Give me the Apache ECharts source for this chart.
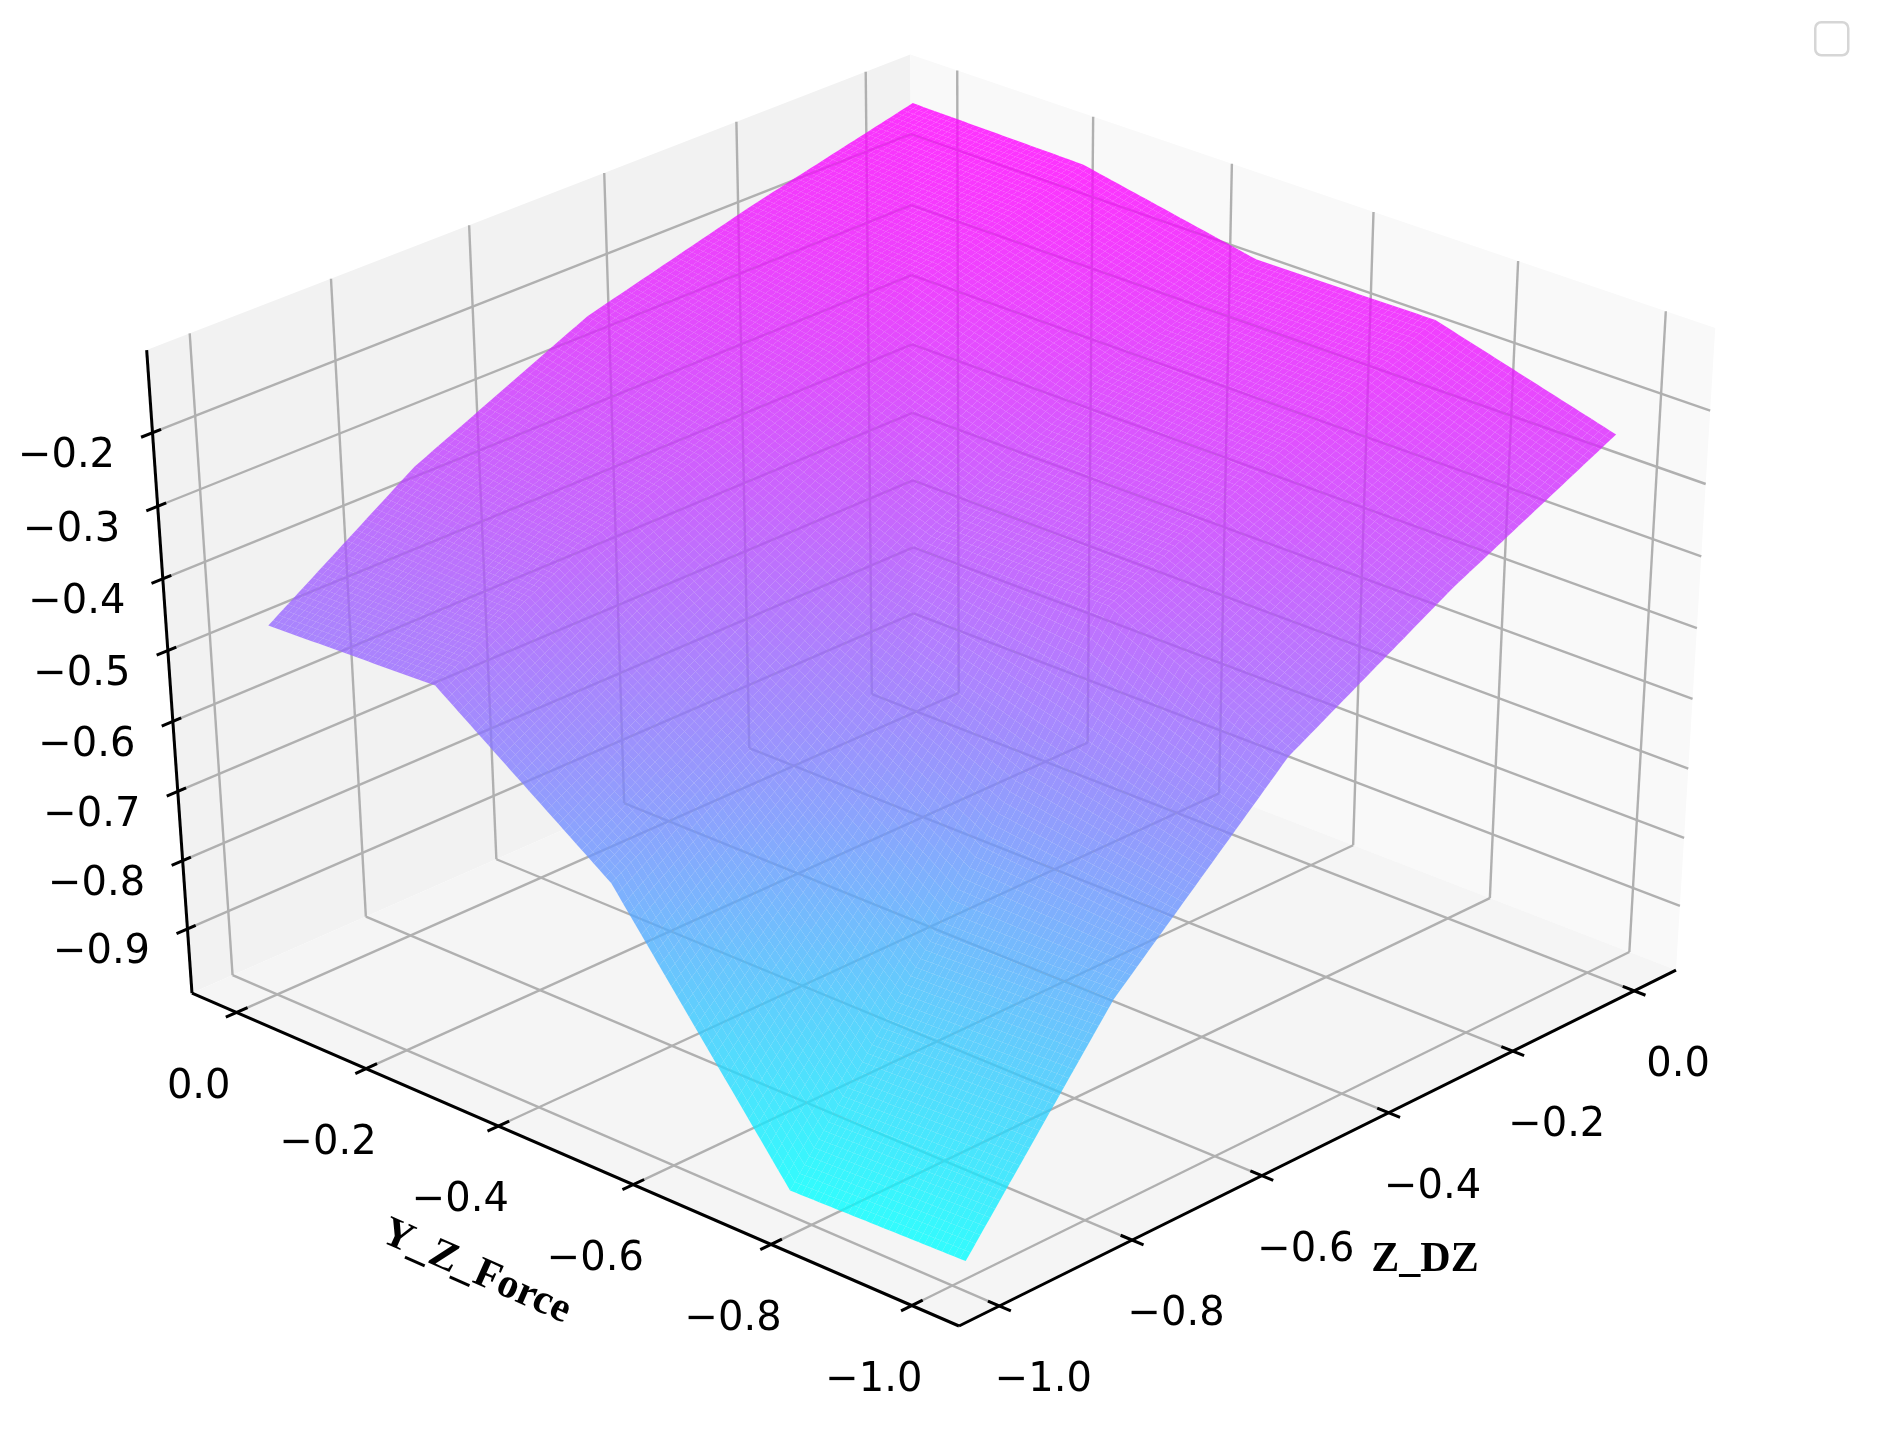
<!DOCTYPE html>
<html>
<head>
<meta charset="utf-8">
<title>surface</title>
<script src="https://cdn.jsdelivr.net/npm/echarts@6/dist/echarts.min.js"></script>
<style>
  html, body { margin: 0; padding: 0; background: #fff; }
  #chart { width: 1890px; height: 1443px; filter: blur(0.7px); }
</style>
</head>
<body>
<div id="chart"></div>
<script>
  // data
  var zDzValues = [0, -0.25, -0.5, -0.76, -0.98];
  var yForceValues = [0, -0.25, -0.5, -0.75, -1];
  // one row per zDzValues entry, one column per yForceValues entry
  var surfaceRow0 = [-0.110, -0.114, -0.162, -0.160, -0.229];
  var surfaceRow1 = [-0.164, -0.177, -0.240, -0.253, -0.340];
  var surfaceRow2 = [-0.226, -0.270, -0.354, -0.358, -0.471];
  var surfaceRow3 = [-0.336, -0.356, -0.514, -0.705, -0.697];
  var surfaceRow4 = [-0.471, -0.461, -0.640, -0.976, -0.969];
  var surfaceRows = [surfaceRow0, surfaceRow1, surfaceRow2, surfaceRow3, surfaceRow4];

  var zDzTicks = [0, -0.2, -0.4, -0.6, -0.8, -1];
  var yForceTicks = [0, -0.2, -0.4, -0.6, -0.8, -1];
  var heightTicks = [-0.2, -0.3, -0.4, -0.5, -0.6, -0.7, -0.8, -0.9];
  var zDzTickLabels = ['0.0', '\u22120.2', '\u22120.4', '\u22120.6', '\u22120.8', '\u22121.0'];
  var yForceTickLabels = ['0.0', '\u22120.2', '\u22120.4', '\u22120.6', '\u22120.8', '\u22121.0'];
  var heightTickLabels = ['\u22120.2', '\u22120.3', '\u22120.4', '\u22120.5', '\u22120.6', '\u22120.7', '\u22120.8', '\u22120.9'];

  // axis limits of the 3d box
  var xLim = [-1.06, 0.07];
  var yLim = [-1.066, 0.07];
  var zLim = [-0.995, -0.089];
  var colorMin = -0.976;
  var colorMax = -0.110;

  // projective camera: unit box -> picture, origin at the front floor corner
  var camOrigin = [959, 1326];
  var camA = [825.6, -293.1];
  var camB = [-755.25, -272.2];
  var camC = [-56.5, -702.4];
  var camP = [0.0648, 0.0612, -0.0573];

  var SUBDIV = 30;
  var SURFACE_OPACITY = 0.8;

  function project(x, y, z) {
    var a = (x - xLim[0]) / (xLim[1] - xLim[0]);
    var b = (y - yLim[0]) / (yLim[1] - yLim[0]);
    var c = (z - zLim[0]) / (zLim[1] - zLim[0]);
    var w = 1 + camP[0] * a + camP[1] * b + camP[2] * c;
    return [
      (camOrigin[0] + a * camA[0] + b * camB[0] + c * camC[0]) / w,
      (camOrigin[1] + a * camA[1] + b * camB[1] + c * camC[1]) / w
    ];
  }

  function coolColor(z) {
    var t = (z - colorMin) / (colorMax - colorMin);
    t = Math.max(0, Math.min(1, t));
    return 'rgb(' + Math.round(255 * t) + ',' + Math.round(255 * (1 - t)) + ',255)';
  }

  function lerp(p, q, t) {
    return p + (q - p) * t;
  }

  // panes
  var xlo = xLim[0], xhi = xLim[1], ylo = yLim[0], yhi = yLim[1], zlo = zLim[0], zhi = zLim[1];
  var paneData = [
    { color: '#f2f2f2', pts: [[xlo, yhi, zlo], [xhi, yhi, zlo], [xhi, yhi, zhi], [xlo, yhi, zhi]] },
    { color: '#f9f9f9', pts: [[xhi, ylo, zlo], [xhi, yhi, zlo], [xhi, yhi, zhi], [xhi, ylo, zhi]] },
    { color: '#f5f5f5', pts: [[xlo, ylo, zlo], [xhi, ylo, zlo], [xhi, yhi, zlo], [xlo, yhi, zlo]] }
  ];

  // grid lines on the panes
  var gridSegments = [];
  zDzTicks.forEach(function (t) {
    gridSegments.push([t, yhi, zlo, t, yhi, zhi]);
    gridSegments.push([t, ylo, zlo, t, yhi, zlo]);
  });
  yForceTicks.forEach(function (t) {
    gridSegments.push([xhi, t, zlo, xhi, t, zhi]);
    gridSegments.push([xlo, t, zlo, xhi, t, zlo]);
  });
  heightTicks.forEach(function (t) {
    gridSegments.push([xlo, yhi, t, xhi, yhi, t]);
    gridSegments.push([xhi, ylo, t, xhi, yhi, t]);
  });

  // axis lines and tick marks
  var axisSegments = [
    [xlo, ylo, zlo, xhi, ylo, zlo],
    [xlo, ylo, zlo, xlo, yhi, zlo],
    [xlo, yhi, zlo, xlo, yhi, zhi]
  ];
  zDzTicks.forEach(function (t) {
    axisSegments.push([t, ylo - 0.016, zlo, t, ylo + 0.016, zlo]);
  });
  yForceTicks.forEach(function (t) {
    axisSegments.push([xlo - 0.016, t, zlo, xlo + 0.016, t, zlo]);
  });
  heightTicks.forEach(function (t) {
    axisSegments.push([xlo - 0.016, yhi, t, xlo + 0.012, yhi, t]);
  });

  // tick labels: value position on the axis + pixel offset
  var labelData = [];
  zDzTicks.forEach(function (t, i) {
    labelData.push({ pos: [t, ylo, zlo], off: [44, 75], text: zDzTickLabels[i] });
  });
  yForceTicks.forEach(function (t, i) {
    labelData.push({ pos: [xlo, t, zlo], off: [-38, 75], text: yForceTickLabels[i] });
  });
  heightTicks.forEach(function (t, i) {
    labelData.push({ pos: [xlo, yhi, t], off: [-86, 24], text: heightTickLabels[i] });
  });

  // surface cells, back corner first
  var cellData = [];
  for (var i = 0; i < zDzValues.length - 1; i++) {
    for (var j = 0; j < yForceValues.length - 1; j++) {
      cellData.push([i, j]);
    }
  }

  function segmentSeries(segments, color, width, z) {
    return {
      type: 'custom',
      coordinateSystem: 'cartesian2d',
      silent: true,
      animation: false,
      clip: false,
      z: z,
      data: segments.map(function (s, idx) { return [idx, 0]; }),
      renderItem: function (params, api) {
        var s = segments[params.dataIndex];
        var p = api.coord(project(s[0], s[1], s[2]));
        var q = api.coord(project(s[3], s[4], s[5]));
        return {
          type: 'line',
          shape: { x1: p[0], y1: p[1], x2: q[0], y2: q[1] },
          style: { stroke: color, lineWidth: width, fill: null }
        };
      }
    };
  }

  var option = {
    backgroundColor: '#ffffff',
    animation: false,
    tooltip: { show: false },
    grid: { left: 0, right: 0, top: 0, bottom: 0 },
    xAxis: { type: 'value', min: 0, max: 1890, show: false },
    yAxis: { type: 'value', min: 0, max: 1443, inverse: true, show: false },
    graphic: [
      {
        type: 'rect',
        left: 1814,
        top: 21,
        shape: { width: 33, height: 33, r: 6 },
        style: { fill: '#fff', stroke: '#d6d6d6', lineWidth: 2.5 }
      }
    ],
    series: [
      {
        type: 'custom',
        coordinateSystem: 'cartesian2d',
        silent: true,
        animation: false,
        clip: false,
        z: 1,
        data: paneData.map(function (p, idx) { return [idx, 0]; }),
        renderItem: function (params, api) {
          var pane = paneData[params.dataIndex];
          return {
            type: 'polygon',
            shape: {
              points: pane.pts.map(function (p) {
                return api.coord(project(p[0], p[1], p[2]));
              })
            },
            style: { fill: pane.color }
          };
        }
      },
      segmentSeries(gridSegments, '#b0b0b0', 2.4, 2),
      segmentSeries(axisSegments, '#000000', 3, 3),
      {
        type: 'custom',
        coordinateSystem: 'cartesian2d',
        silent: true,
        animation: false,
        clip: false,
        progressive: 0,
        z: 4,
        data: cellData,
        renderItem: function (params, api) {
          var ci = api.value(0), cj = api.value(1);
          var x0 = zDzValues[ci], x1 = zDzValues[ci + 1];
          var y0 = yForceValues[cj], y1 = yForceValues[cj + 1];
          var z00 = surfaceRows[ci][cj], z01 = surfaceRows[ci][cj + 1];
          var z10 = surfaceRows[ci + 1][cj], z11 = surfaceRows[ci + 1][cj + 1];
          function corner(u, v) {
            var zz = lerp(lerp(z00, z01, v), lerp(z10, z11, v), u);
            return api.coord(project(lerp(x0, x1, u), lerp(y0, y1, v), zz));
          }
          var children = [];
          for (var m = 0; m < SUBDIV; m++) {
            for (var n = 0; n < SUBDIV; n++) {
              var u0 = m / SUBDIV, u1 = (m + 1) / SUBDIV;
              var v0 = n / SUBDIV, v1 = (n + 1) / SUBDIV;
              var um = (u0 + u1) / 2, vm = (v0 + v1) / 2;
              var zMid = lerp(lerp(z00, z01, vm), lerp(z10, z11, vm), um);
              children.push({
                type: 'polygon',
                shape: { points: [corner(u0, v0), corner(u0, v1), corner(u1, v1), corner(u1, v0)] },
                style: { fill: coolColor(zMid), opacity: SURFACE_OPACITY }
              });
            }
          }
          return { type: 'group', children: children };
        }
      },
      {
        type: 'custom',
        coordinateSystem: 'cartesian2d',
        silent: true,
        animation: false,
        clip: false,
        z: 5,
        data: labelData.map(function (l, idx) { return [idx, 0]; }),
        renderItem: function (params, api) {
          var l = labelData[params.dataIndex];
          var p = api.coord(project(l.pos[0], l.pos[1], l.pos[2]));
          return {
            type: 'text',
            x: p[0] + l.off[0],
            y: p[1] + l.off[1],
            style: {
              text: l.text,
              fill: '#000',
              font: '40px "DejaVu Sans"',
              align: 'center',
              verticalAlign: 'middle'
            }
          };
        }
      },
      {
        type: 'custom',
        coordinateSystem: 'cartesian2d',
        silent: true,
        animation: false,
        clip: false,
        z: 6,
        data: [[0, 0], [1, 0]],
        renderItem: function (params, api) {
          var isForce = params.dataIndex === 0;
          var p = api.coord(isForce ? [476, 1272] : [1425, 1260]);
          return {
            type: 'text',
            x: p[0],
            y: p[1],
            rotation: isForce ? -24 * Math.PI / 180 : 0,
            style: {
              text: isForce ? 'Y_Z_Force' : 'Z_DZ',
              fill: '#000',
              font: 'bold 42px "Liberation Serif"',
              align: 'center',
              verticalAlign: 'middle'
            }
          };
        }
      }
    ]
  };

  var myChart = echarts.init(document.getElementById('chart'));
  myChart.setOption(option);
</script>
</body>
</html>
